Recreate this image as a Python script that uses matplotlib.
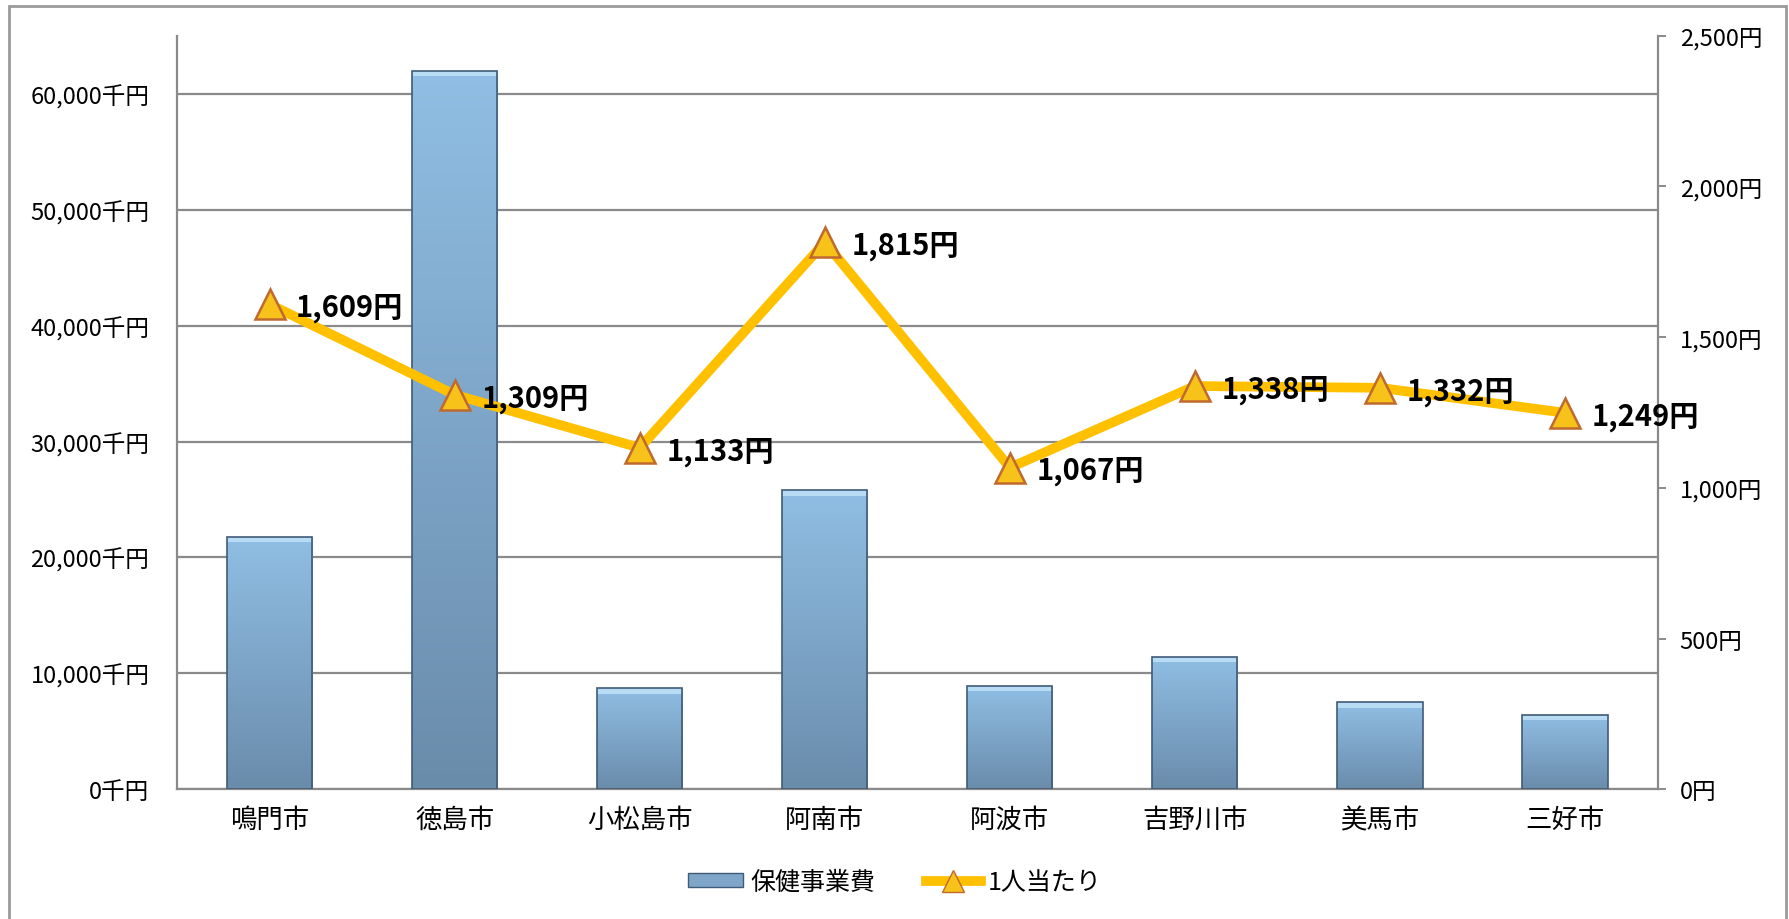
import numpy as np
import matplotlib
matplotlib.use("Agg")
import matplotlib.pyplot as plt
from matplotlib.patches import Rectangle
from matplotlib.lines import Line2D
from matplotlib.colors import LinearSegmentedColormap

plt.rcParams['font.family'] = ['Noto Sans CJK JP', 'DejaVu Sans']

# data
cities = ['鳴門市', '徳島市', '小松島市', '阿南市', '阿波市', '吉野川市', '美馬市', '三好市']
cost = [21800, 62000, 8750, 25800, 8950, 11450, 7500, 6450]      # 保健事業費 (千円)
per_person = [1609, 1309, 1133, 1815, 1067, 1338, 1332, 1249]    # 1人当たり (円)
left_ticks = [0, 10000, 20000, 30000, 40000, 50000, 60000]
right_ticks = [0, 500, 1000, 1500, 2000, 2500]

fig = plt.figure(figsize=(17.9, 9.2), dpi=100)
ax = fig.add_axes([0.099, 0.141, 0.827, 0.819])
ax2 = ax.twinx()

grey = '#8a8a8a'
x = np.arange(len(cities))

# gridlines
ax.set_ylim(0, 65000)
ax.set_yticks(left_ticks)
ax.yaxis.grid(True, color=grey, linewidth=1.6)
ax.set_axisbelow(True)

# bars with a vertical gradient
bars = ax.bar(x, cost, width=0.46, color='none', edgecolor='#3f5b78', linewidth=1.2, zorder=3)
cmap = LinearSegmentedColormap.from_list('bar', ['#6a8cab', '#90bee4'])
grad = np.linspace(0, 1, 256).reshape(-1, 1)
for b in bars:
    bx, by = b.get_x(), b.get_y()
    w, h = b.get_width(), b.get_height()
    im = ax.imshow(grad, cmap=cmap, aspect='auto', origin='lower',
                   extent=[bx, bx + w, by, by + h], zorder=2)
    im.set_clip_path(b)
    # light bevel on the top
    ax.add_patch(Rectangle((bx, by + h - 500), w, 500, facecolor='#bfe2f8',
                           edgecolor='none', alpha=0.85, zorder=2.5))
ax.set_xlim(-0.5, len(cities) - 0.5)
ax.set_xticks(x)
ax.set_xticklabels(cities, fontsize=19)
ax.tick_params(axis='x', length=0, pad=12)
ax.set_yticklabels([f'{v:,}千円' for v in left_ticks], fontsize=17)
ax.tick_params(axis='y', length=0, pad=20)

for s in ['top', 'right']:
    ax.spines[s].set_visible(False)
for s in ['left', 'bottom']:
    ax.spines[s].set_color(grey)
    ax.spines[s].set_linewidth(1.6)

# per-person line on the right axis
ax2.set_ylim(0, 2500)
ax2.set_yticks(right_ticks)
ax2.set_yticklabels([f'{v:,}円' for v in right_ticks], fontsize=17)
ax2.tick_params(axis='y', length=6, width=1.4, color=grey, pad=10)
for s in ['top', 'left', 'bottom']:
    ax2.spines[s].set_visible(False)
ax2.spines['right'].set_color(grey)
ax2.spines['right'].set_linewidth(1.6)

ax2.plot(x, per_person, color='#FFC000', linewidth=7, solid_capstyle='round',
         zorder=4, clip_on=False)
ax2.plot(x, per_person, linestyle='none', marker='^', markersize=22,
         markerfacecolor='#F7C21A', markeredgecolor='#C0692E', markeredgewidth=1.8,
         zorder=5, clip_on=False)
for xi, v in zip(x, per_person):
    ax2.annotate(f'{v:,}円', (xi, v), xytext=(19, -2), textcoords='offset points',
                 ha='left', va='center', fontsize=21, fontweight='bold', zorder=6)

# legend
handles = [Rectangle((0, 0), 1, 1, facecolor='#7fa6c9', edgecolor='#3f5b78'),
           Line2D([0], [0], color='#FFC000', linewidth=7, marker='^', markersize=16,
                  markerfacecolor='#F7C21A', markeredgecolor='#C0692E')]
fig.legend(handles, ['保健事業費', '1人当たり'], loc='center', bbox_to_anchor=(0.5, 0.04),
           ncol=2, frameon=False, fontsize=18, handlelength=2.2, handleheight=0.5,
           handletextpad=0.3, columnspacing=2.0)

# outer frame
fig.patches.append(Rectangle((0.005, -0.05), 0.993, 1.042, transform=fig.transFigure,
                             fill=False, edgecolor='#9a9a9a', linewidth=2))

fig.savefig('out.png', dpi=100)
